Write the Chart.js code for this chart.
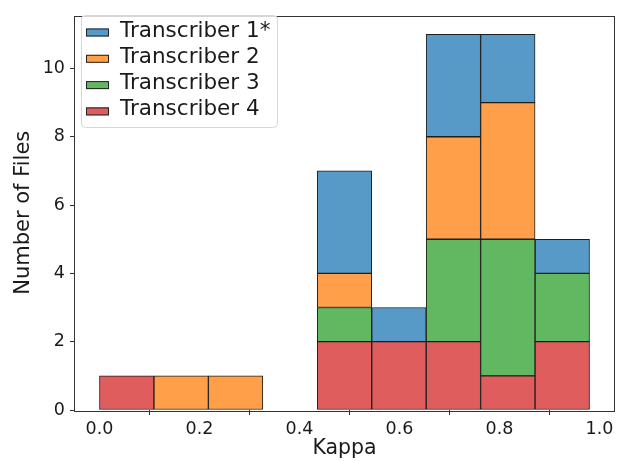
<!DOCTYPE html>
<html>
<head>
<meta charset="utf-8">
<script src="https://cdn.jsdelivr.net/npm/chart.js@4.4.1/dist/chart.umd.min.js"></script>
<style>
  html, body { margin: 0; padding: 0; background: #fff; }
</style>
</head>
<body>
<canvas id="hist" width="625" height="461"></canvas>
<script>
// bin centres (kappa), 9 bins from 0.0 to ~0.98
const binCenters = [0.0544, 0.1633, 0.2722, 0.3811, 0.4900, 0.5989, 0.7078, 0.8167, 0.9256];

// counts per bin, stacked bottom -> top: T4, T3, T2, T1
const transcriber4 = [1, 0, 0, 0, 2, 2, 2, 1, 2];
const transcriber3 = [0, 0, 0, 0, 1, 0, 3, 4, 2];
const transcriber2 = [0, 1, 1, 0, 1, 0, 3, 4, 0];
const transcriber1 = [0, 0, 0, 0, 3, 1, 3, 2, 1];

const xTicks = [0.0, 0.2, 0.4, 0.6, 0.8, 1.0];
const yTicks = [0, 2, 4, 6, 8, 10];

const ink = '#1a1a1a';
Chart.defaults.font.family = "'DejaVu Sans', sans-serif";
Chart.defaults.color = ink;

function series(label, counts, color) {
  return {
    label: label,
    data: counts.map((c, i) => ({ x: binCenters[i], y: c })),
    backgroundColor: color,
    borderColor: '#1e1e1e',
    borderWidth: 1,
    borderSkipped: false,
    barPercentage: 1,
    categoryPercentage: 1
  };
}

// frame around the plot area (all four spines)
const framePlugin = {
  id: 'frame',
  afterDatasetsDraw(chart) {
    const { ctx, chartArea: a } = chart;
    ctx.save();
    ctx.strokeStyle = '#333';
    ctx.lineWidth = 1;
    ctx.strokeRect(Math.round(a.left) - 0.5, Math.round(a.top) + 0.5,
      Math.round(a.right - a.left) + 1, Math.round(a.bottom - a.top));
    ctx.restore();
  }
};

// matplotlib-style legend inside the top-left corner
const legendPlugin = {
  id: 'boxLegend',
  afterDraw(chart) {
    const { ctx } = chart;
    const sets = chart.data.datasets.slice().reverse();
    ctx.save();
    ctx.fillStyle = 'rgba(255,255,255,0.8)';
    ctx.strokeStyle = '#d6d6d6';
    ctx.lineWidth = 1;
    ctx.beginPath();
    ctx.roundRect(81.5, 15.5, 196, 112, 4);
    ctx.fill();
    ctx.stroke();
    ctx.font = "21.5px 'DejaVu Sans'";
    ctx.textBaseline = 'alphabetic';
    sets.forEach((ds, i) => {
      const base = 36.5 + i * 26.3;
      ctx.fillStyle = ds.backgroundColor;
      ctx.fillRect(86, base - 8, 23, 8);
      ctx.strokeStyle = '#222';
      ctx.strokeRect(86.5, base - 7.5, 22, 7);
      ctx.fillStyle = ink;
      ctx.fillText(ds.label, 120, base);
    });
    ctx.restore();
  }
};

new Chart(document.getElementById('hist'), {
  type: 'bar',
  data: {
    datasets: [
      series('Transcriber 4', transcriber4, '#e05d5e'),
      series('Transcriber 3', transcriber3, '#61b861'),
      series('Transcriber 2', transcriber2, '#ff9f4a'),
      series('Transcriber 1*', transcriber1, '#5799c7')
    ]
  },
  options: {
    responsive: false,
    animation: false,
    layout: { padding: { left: 0, right: 11, top: 8, bottom: 0 } },
    plugins: { legend: { display: false }, tooltip: { enabled: false } },
    scales: {
      x: {
        type: 'linear',
        stacked: true,
        offset: false,
        min: -0.049,
        max: 1.029,
        grid: { drawOnChartArea: false, drawTicks: true, tickLength: 5, tickColor: '#333' },
        border: { display: false },
        ticks: { font: { size: 17.5 }, padding: 4, callback: v => v.toFixed(1) },
        title: { display: true, text: 'Kappa', font: { size: 20.5 }, padding: { top: 0, bottom: 0 } },
        afterBuildTicks: s => { s.ticks = xTicks.map(v => ({ value: v })); },
        afterFit: s => { s.height = 51; }
      },
      y: {
        stacked: true,
        min: 0,
        max: 11.55,
        grid: { drawOnChartArea: false, drawTicks: true, tickLength: 5, tickColor: '#333' },
        border: { display: false },
        ticks: { font: { size: 17.5 }, padding: 5 },
        title: { display: true, text: 'Number of Files', font: { size: 21 }, padding: { top: 11, bottom: 0 } },
        afterBuildTicks: s => { s.ticks = yTicks.map(v => ({ value: v })); },
        afterFit: s => { s.width = 75; }
      }
    }
  },
  plugins: [framePlugin, legendPlugin]
});
</script>
</body>
</html>
